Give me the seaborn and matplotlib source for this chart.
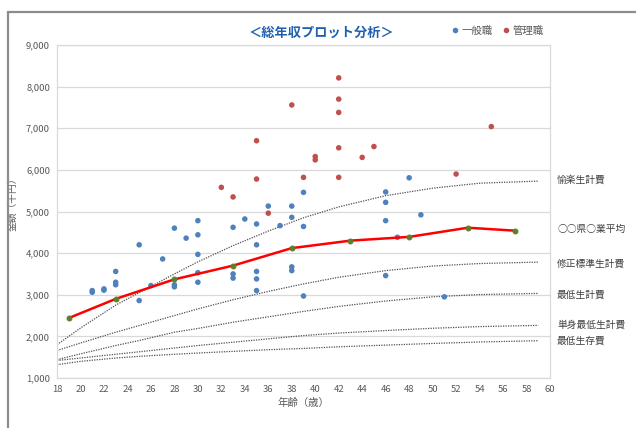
import numpy as np
import pandas as pd
import matplotlib
matplotlib.use("Agg")
import matplotlib.pyplot as plt
from matplotlib.patches import Rectangle
from matplotlib.lines import Line2D
import seaborn as sns

# ---------------- data ----------------
general_age = [21, 21, 22, 22, 23, 23, 23, 25, 25, 26, 27, 28, 28, 28, 29,
               30, 30, 30, 30, 30, 33, 33, 33, 34, 35, 35, 35, 35, 35, 36,
               37, 38, 38, 38, 38, 39, 39, 39, 46, 46, 46, 46, 47, 48, 49, 51]
general_pay = [3100, 3060, 3140, 3110, 3560, 3300, 3240, 4200, 2860, 3220, 3860, 4600, 3240, 3190, 4360,
               4780, 4440, 3970, 3530, 3300, 4620, 3500, 3400, 4820, 4700, 4200, 3560, 3380, 3100, 5130,
               4660, 5130, 4860, 3670, 3580, 5460, 4640, 2970, 5470, 5220, 4780, 3460, 4380, 5810, 4920, 2950]

manager_age = [32, 33, 35, 35, 36, 38, 39, 40, 40, 42, 42, 42, 42, 42, 44, 45, 52, 55]
manager_pay = [5580, 5350, 6700, 5780, 4960, 7560, 5820, 6320, 6240, 8210, 7700, 7380, 6530, 5820,
               6300, 6560, 5900, 7040]

avg_age = [19, 23, 28, 33, 38, 43, 48, 53, 57]
avg_pay = [2440, 2900, 3370, 3700, 4120, 4300, 4390, 4610, 4540]

curve_age = [18, 20, 23, 25, 28, 30, 33, 36, 39, 42, 46, 50, 54, 59]
curve_yuraku = [1800, 2200, 2750, 3050, 3500, 3790, 4180, 4530, 4850, 5110, 5380, 5560, 5680, 5730]
curve_shusei = [1660, 1840, 2100, 2260, 2500, 2660, 2880, 3080, 3260, 3420, 3580, 3690, 3750, 3784]
curve_saitei = [1440, 1580, 1780, 1900, 2100, 2190, 2340, 2470, 2600, 2720, 2850, 2950, 3005, 3032]
curve_tanshin = [1420, 1480, 1570, 1630, 1720, 1780, 1860, 1940, 2020, 2080, 2140, 2195, 2235, 2264]
curve_seizon = [1320, 1400, 1480, 1520, 1570, 1600, 1640, 1680, 1710, 1750, 1790, 1830, 1865, 1896]

curve_names = ["愉楽生計費", "修正標準生計費", "最低生計費", "単身最低生計費", "最低生存費"]
avg_name = "○○県○業平均"
series_names = ["一般職", "管理職"]
title = "＜総年収プロット分析＞"
xlabel = "年齢（歳）"
ylabel = "金額（千円）"
xticks = list(range(18, 61, 2))
yticks = list(range(1000, 9001, 1000))

# ---------------- style ----------------
sns.set_theme(style="white")
plt.rcParams['font.family'] = ['Noto Sans CJK JP', 'DejaVu Sans']

BLUE = "#4F81BD"
RED_PT = "#C0504D"
LINE_RED = "#FF0000"
GREEN = "#5E7F2A"
TXT = "#595959"

fig = plt.figure(figsize=(6.36, 4.28), dpi=100)
fig.patch.set_facecolor("white")
W, H = 636, 428
ax = fig.add_axes([57 / W, 1 - 378 / H, (550 - 57) / W, (378 - 45) / H])

# outer window frame of the screenshot
fig.patches.append(Rectangle((8 / W, -0.01), 1.0, (H - 12) / H + 0.01, transform=fig.transFigure,
                             fill=False, edgecolor="#8c8c8c", linewidth=1.6))

pts = pd.DataFrame({
    "age": general_age + manager_age,
    "pay": general_pay + manager_pay,
    "kind": [series_names[0]] * len(general_age) + [series_names[1]] * len(manager_age),
})

# dotted reference curves
curves = [curve_yuraku, curve_shusei, curve_saitei, curve_tanshin, curve_seizon]
for vals in curves:
    cdf = pd.DataFrame({"age": curve_age, "pay": vals})
    sns.lineplot(data=cdf, x="age", y="pay", ax=ax, color="#505050", linewidth=0.9,
                 linestyle=(0, (1, 1)), zorder=2)

sns.scatterplot(data=pts, x="age", y="pay", hue="kind", palette=[BLUE, RED_PT], ax=ax,
                s=16, edgecolor="none", legend=False, zorder=4)

adf = pd.DataFrame({"age": avg_age, "pay": avg_pay})
sns.lineplot(data=adf, x="age", y="pay", ax=ax, color=LINE_RED, linewidth=1.8, zorder=5,
             marker="o", markersize=3.5, markerfacecolor=GREEN, markeredgecolor=GREEN)

ax.set_xlim(18, 60)
ax.set_ylim(1000, 9000)
ax.set_xticks(xticks)
ax.set_yticks(yticks)
ax.set_yticklabels([f"{v:,}" for v in yticks])
ax.tick_params(axis="both", labelsize=6.8, colors=TXT, length=0, pad=5)
ax.yaxis.grid(True, color="#D9D9D9", linewidth=0.9)
ax.xaxis.grid(False)
for sp in ax.spines.values():
    sp.set_color("#D9D9D9")
    sp.set_linewidth(0.9)
ax.set_xlabel(xlabel, fontsize=7.5, color=TXT, labelpad=3)
ax.set_ylabel(ylabel, fontsize=7, color=TXT)
ax.yaxis.set_label_coords((17 - 57) / 493, 0.53)

fig.text(322 / W, 1 - 33 / H, title, ha="center", va="center", fontsize=9.5,
         fontweight="bold", color="#1F5FB0")

handles = [Line2D([], [], linestyle="none", marker="o", markersize=3, color=c) for c in (BLUE, RED_PT)]
fig.legend(handles, series_names, loc="center", bbox_to_anchor=(497 / W, 1 - 31 / H), ncol=2,
           frameon=False, fontsize=7.5, handletextpad=0.1, columnspacing=0.8, labelcolor=TXT,
           handlelength=1.0)

label_y = [180, 229, 264, 295, 325, 341]
labels = [curve_names[0], avg_name] + curve_names[1:]
for lab, yy in zip(labels, label_y):
    fig.text(557 / W, 1 - yy / H, lab, ha="left", va="center", fontsize=7, color="#404040")

fig.savefig("out.png", dpi=100, facecolor="white")
